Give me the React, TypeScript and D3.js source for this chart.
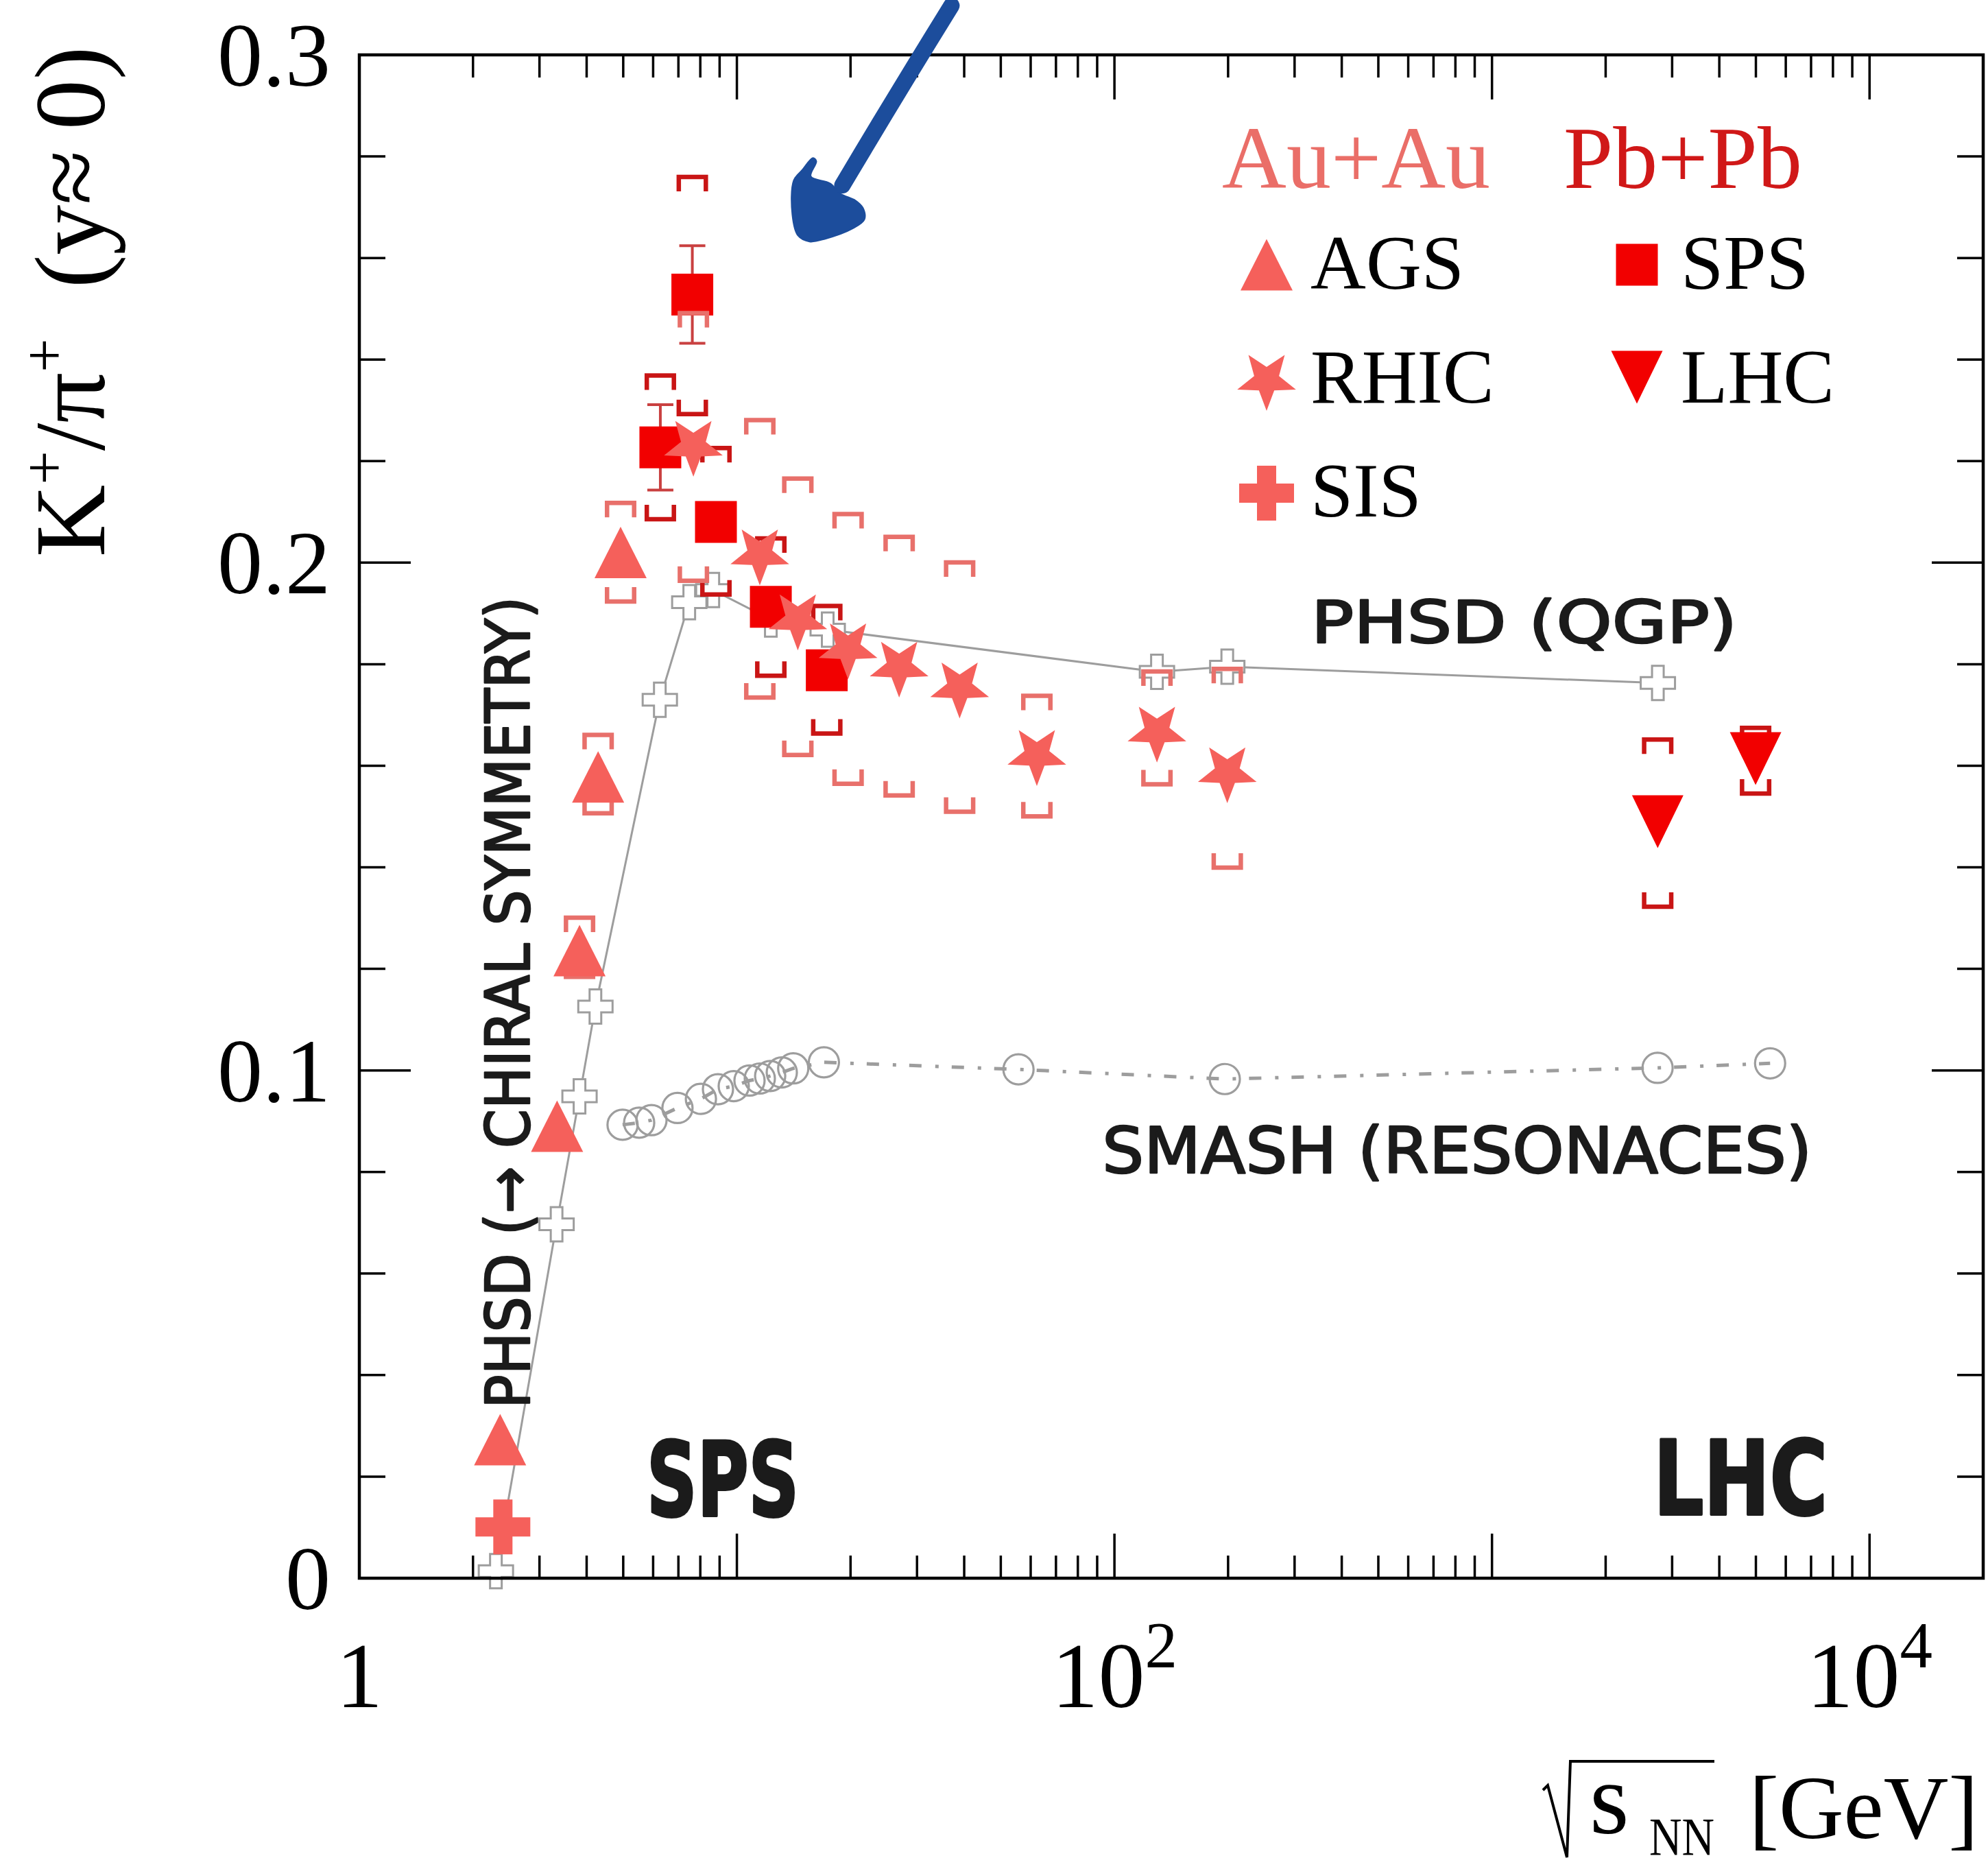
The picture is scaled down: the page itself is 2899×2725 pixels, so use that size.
import React from "react";
import * as d3 from "d3";

const W = 2899;
const H = 2725;

// ---- data (sqrt(sNN) in GeV, K+/pi+ ratio) ----
// Au+Au AGS (up triangles)
const agsE = [2.36, 3.34, 3.83, 4.29, 4.92];
const agsR = [0.0273, 0.089, 0.1236, 0.1578, 0.202];
const agsSysLo = [null, null, 0.118, 0.1502, 0.1919];
const agsSysHi = [null, null, 0.1305, 0.1665, 0.2122];

// Au+Au SIS (filled cross)
const sisE = [2.4];
const sisR = [0.0101];

// Pb+Pb SPS (squares)
const spsE = [6.27, 7.62, 8.8, 12.3, 17.3];
const spsR = [0.2227, 0.2528, 0.208, 0.1913, 0.1788];
const spsStat = [0.0084, 0.0096, 0.003, 0.003, 0.003];
const spsSysLo = [0.2081, 0.2288, 0.1933, 0.1773, 0.1659];
const spsSysHi = [0.2373, 0.2764, 0.223, 0.2052, 0.1919];

// Au+Au RHIC (stars)
const rhicE = [7.67, 11.5, 14.5, 19.7, 26.9, 38.9, 62.3, 129.6, 199];
const rhicR = [0.223, 0.2016, 0.1888, 0.1831, 0.1795, 0.1754, 0.1621, 0.1667, 0.1587];
const rhicSysLo = [0.196, 0.173, 0.1617, 0.156, 0.1537, 0.1505, 0.1496, 0.1559, 0.1395];
const rhicSysHi = [0.2496, 0.2285, 0.217, 0.21, 0.2055, 0.2005, 0.1742, 0.179, 0.1795];

// Pb+Pb LHC (down triangles)
const lhcE = [2747, 4991];
const lhcR = [0.149, 0.1614];
const lhcSysLo = [0.1318, 0.1541];
const lhcSysHi = [0.1656, 0.1679];

// PHSD model (open crosses, solid line)
const phsdE = [2.3, 3.33, 3.83, 4.22, 6.25, 7.48, 8.66, 12.3, 17.4, 129.6, 199, 2750];
const phsdR = [0.0014, 0.0697, 0.0949, 0.1126, 0.173, 0.1922, 0.1946, 0.1888, 0.1868, 0.1785, 0.1795, 0.1763];

// SMASH model (open circles, dash-dot line)
const smashE = [4.98, 5.51, 5.94, 6.96, 8.03, 8.91, 9.81, 10.8, 11.5, 12.25, 13.15, 14.1, 17.0, 55.7, 196, 2745, 5453];
const smashR = [0.0893, 0.0897, 0.0902, 0.0926, 0.0944, 0.0963, 0.0969, 0.098, 0.0984, 0.0989, 0.0996, 0.1004, 0.1016, 0.1002, 0.0983, 0.1005, 0.1014];

const yTickLabels = ["0", "0.1", "0.2", "0.3"];
const xTickLabels = [
  { v: 1, base: "1", exp: "" },
  { v: 100, base: "10", exp: "2" },
  { v: 10000, base: "10", exp: "4" },
];

// colours
const AU = "#f5605b";
const AU_SYS = "#e8706b";
const PB = "#f20000";
const PB_SYS = "#c91515";
const PB_STAT = "#c94040";
const MODEL = "#9d9d9d";
const INK = "#1b1b1b";
const SERIF = "'Liberation Serif', 'Times New Roman', serif";
const HAND = "'DejaVu Sans', sans-serif";

// marker shapes centred on 0,0
const triUp = (w: number, h: number) => `M${-w / 2},${h / 2}L${w / 2},${h / 2}L0,${-h / 2}Z`;
const triDown = (w: number, h: number) => `M${-w / 2},${-h / 2}L${w / 2},${-h / 2}L0,${h / 2}Z`;
const square = (s: number) => `M${-s / 2},${-s / 2}h${s}v${s}h${-s}Z`;
const star = (R: number, r: number) => {
  const pts: string[] = [];
  for (let k = 0; k < 10; k++) {
    const a = Math.PI / 2 + (k * Math.PI) / 5;
    const rad = k % 2 === 0 ? R : r;
    pts.push(`${(rad * Math.cos(a)).toFixed(2)},${(rad * Math.sin(a)).toFixed(2)}`);
  }
  return "M" + pts.join("L") + "Z";
};
const cross = (s: number, a: number) => {
  const h = s / 2, t = a / 2;
  return `M${-t},${-h}H${t}V${-t}H${h}V${t}H${t}V${h}H${-t}V${t}H${-h}V${-t}H${-t}Z`;
};

const SHAPES: Record<string, string> = {
  triUp: triUp(76, 75),
  triDown: triDown(75, 77),
  square: square(61),
  star: star(45, 19),
  cross: cross(80, 28),
};

const legendItems = [
  { label: "AGS", shape: "triUp", color: AU, col: 0, row: 0 },
  { label: "SPS", shape: "square", color: PB, col: 1, row: 0 },
  { label: "RHIC", shape: "star", color: AU, col: 0, row: 1 },
  { label: "LHC", shape: "triDown", color: PB, col: 1, row: 1 },
  { label: "SIS", shape: "cross", color: AU, col: 0, row: 2 },
];

// hand-written notes, anchored in data units
const notes = [
  { text: "PHSD (QGP)", e: 332, r: 0.1842, len: 621, size: 86, bold: false, rot: 0 },
  { text: "SMASH (RESONACES)", e: 92.8, r: 0.0798, len: 1035, size: 92, bold: false, rot: 0 },
  { text: "PHSD (→ CHIRAL SYMMETRY)", e: 2.82, r: 0.0334, len: 1184, size: 89, bold: false, rot: -90 },
  { text: "SPS", e: 5.77, r: 0.0123, len: 222, size: 150, bold: true, rot: 0 },
  { text: "LHC", e: 2678, r: 0.0126, len: 254, size: 150, bold: true, rot: 0 },
];

const arrowHead: [number, number][] = [
  [-3, -120], [-18, -103], [-31, -87], [-33, -37], [-25, -7], [-8, 2], [15, -2],
  [55, -17], [72, -30], [70, -47], [59, -58], [37, -68], [22, -83], [-6, -93], [2, -115],
];

export default function App() {
  const x = d3.scaleLog().domain([1, 2e4]).range([524, 2892]);
  const y = d3.scaleLinear().domain([0, 0.3]).range([2301, 80]);
  const [x0, x1] = x.range();
  const [y0, y1] = y.range();

  const xTicks: { v: number; major: boolean }[] = [];
  for (let k = 0; k <= 4; k++) {
    for (let m = 1; m <= 9; m++) {
      const v = m * Math.pow(10, k);
      if (v > 1 && v < 2e4) xTicks.push({ v, major: m === 1 });
    }
  }
  const yTicks = d3.range(1, 15).map((i) => ({ v: i * 0.02, major: i % 5 === 0 }));

  const BW = 46, LEG = 21, BSW = 6.5;
  const brackets = (E: number[], lo: (number | null)[], hi: (number | null)[], color: string, key: string) =>
    E.map((e, i) => {
      const cx = x(e);
      const l = cx - BW / 2 + BSW / 2;
      const r = cx + BW / 2 - BSW / 2;
      const out: JSX.Element[] = [];
      if (hi[i] != null) {
        const yy = y(hi[i] as number) + BSW / 2;
        out.push(<path key={`${key}h${i}`} d={`M${l},${yy + LEG}V${yy}H${r}V${yy + LEG}`} fill="none" stroke={color} strokeWidth={BSW} />);
      }
      if (lo[i] != null) {
        const yy = y(lo[i] as number) - BSW / 2;
        out.push(<path key={`${key}l${i}`} d={`M${l},${yy - LEG}V${yy}H${r}V${yy - LEG}`} fill="none" stroke={color} strokeWidth={BSW} />);
      }
      return out;
    });

  const markers = (E: number[], R: number[], shape: string, color: string, key: string) =>
    E.map((e, i) => (
      <path key={`${key}${i}`} d={SHAPES[shape]} transform={`translate(${x(e)},${y(R[i])})`} fill={color} />
    ));

  const line = d3.line<[number, number]>().x((d) => x(d[0])).y((d) => y(d[1]));
  const phsdPts = phsdE.map((e, i) => [e, phsdR[i]] as [number, number]);
  const smashPts = smashE.map((e, i) => [e, smashR[i]] as [number, number]);

  const headPath = d3.line().curve(d3.curveCatmullRomClosed)(arrowHead) as string;
  const tipX = x(16.1), tipY = y(0.2635);

  // legend layout
  const lgX = [1847, 2387];
  const lgTextX = [1911, 2451];
  const lgBase = [421, 587, 753];
  const lgDy: Record<string, number> = { triUp: -35, square: -35, star: -33, triDown: -37, cross: -34 };

  // x axis label position
  const axY = 2680;

  return (
    <svg width={W} height={H} style={{ position: "absolute", left: 0, top: 0, background: "#fff" }}>
      <rect width={W} height={H} fill="#fff" />

      {/* PHSD */}
      <path d={line(phsdPts) as string} fill="none" stroke={MODEL} strokeWidth={3} />
      {phsdPts.map((p, i) => (
        <path key={`ph${i}`} d={cross(50, 17)} transform={`translate(${x(p[0])},${y(p[1])})`} fill="#fff" stroke={MODEL} strokeWidth={3} />
      ))}

      {/* SMASH */}
      <path d={line(smashPts) as string} fill="none" stroke={MODEL} strokeWidth={5} strokeDasharray="18,20,5,19" />
      {smashPts.map((p, i) => (
        <circle key={`sm${i}`} cx={x(p[0])} cy={y(p[1])} r={22} fill="none" stroke={MODEL} strokeWidth={3.2} />
      ))}

      {/* data */}
      {brackets(agsE, agsSysLo, agsSysHi, AU_SYS, "ab")}
      {markers(agsE, agsR, "triUp", AU, "ag")}
      {markers(sisE, sisR, "cross", AU, "si")}

      {brackets(spsE, spsSysLo, spsSysHi, PB_SYS, "sb")}
      {spsE.map((e, i) => {
        const cx = x(e);
        const t = y(spsR[i] + spsStat[i]);
        const b = y(spsR[i] - spsStat[i]);
        return (
          <path key={`st${i}`} d={`M${cx},${t}V${b}M${cx - 19},${t}H${cx + 19}M${cx - 19},${b}H${cx + 19}`} stroke={PB_STAT} strokeWidth={4} fill="none" />
        );
      })}
      {markers(spsE, spsR, "square", PB, "sp")}

      {brackets(rhicE, rhicSysLo, rhicSysHi, AU_SYS, "rb")}
      {markers(rhicE, rhicR, "star", AU, "rh")}

      {brackets(lhcE, lhcSysLo, lhcSysHi, PB_SYS, "lb")}
      {markers(lhcE, lhcR, "triDown", PB, "lh")}

      {/* frame and ticks */}
      <rect x={x0} y={y1} width={x1 - x0} height={y0 - y1} fill="none" stroke="#000" strokeWidth={4.5} />
      {xTicks.map((t, i) => {
        const len = t.major ? 65 : 33;
        const xx = x(t.v);
        return (
          <g key={`xt${i}`} stroke="#000" strokeWidth={3.5}>
            <line x1={xx} x2={xx} y1={y0} y2={y0 - len} />
            <line x1={xx} x2={xx} y1={y1} y2={y1 + len} />
          </g>
        );
      })}
      {yTicks.map((t, i) => {
        const len = t.major ? 75 : 38;
        const yy = y(t.v);
        return (
          <g key={`yt${i}`} stroke="#000" strokeWidth={3.5}>
            <line x1={x0} x2={x0 + len} y1={yy} y2={yy} />
            <line x1={x1} x2={x1 - len} y1={yy} y2={yy} />
          </g>
        );
      })}

      {/* tick labels */}
      {yTickLabels.map((s, i) => (
        <text key={`yl${i}`} x={482} y={y(i * 0.1) + 45} textAnchor="end" fontFamily={SERIF} fontSize={132} fill="#000">
          {s}
        </text>
      ))}
      {xTickLabels.map((t, i) => (
        <text key={`xl${i}`} x={x(t.v)} y={2489} textAnchor="middle" fontFamily={SERIF} fontSize={136} fill="#000">
          {t.base}
          {t.exp && (
            <tspan fontSize={95} dy={-58}>
              {t.exp}
            </tspan>
          )}
        </text>
      ))}

      {/* axis titles */}
      <text transform="translate(152,440) rotate(-90)" textAnchor="middle" fontFamily={SERIF} fontSize={146} fill="#000">
        K
        <tspan fontSize={88} dy={-58}>+</tspan>
        <tspan fontSize={146} dy={58}>/π</tspan>
        <tspan fontSize={88} dy={-58}>+</tspan>
        <tspan fontSize={146} dy={58}>{"\u2002(y\u2248\u20090)"}</tspan>
      </text>

      <path d={`M2250,${axY - 70}L2257,${axY - 77}L2285,${axY + 28}L2290,${axY - 112}H2500`} fill="none" stroke="#000" strokeWidth={4} />
      <text x={2318} y={axY - 7} fontFamily={SERIF} fontSize={148} fill="#000">s</text>
      <text x={2405} y={axY + 24} fontFamily={SERIF} fontSize={78} textLength={95} lengthAdjust="spacingAndGlyphs" fill="#000">NN</text>
      <text x={2885} y={axY} textAnchor="end" fontFamily={SERIF} fontSize={131} fill="#000">[GeV]</text>

      {/* legend */}
      <text x={1782} y={274} fontFamily={SERIF} fontSize={130} fill="#ea6e68">Au+Au</text>
      <text x={2280} y={274} fontFamily={SERIF} fontSize={130} fill="#d01818">Pb+Pb</text>
      {legendItems.map((it, i) => (
        <g key={`lg${i}`}>
          <path d={SHAPES[it.shape]} transform={`translate(${lgX[it.col]},${lgBase[it.row] + lgDy[it.shape]})`} fill={it.color} />
          <text x={lgTextX[it.col]} y={lgBase[it.row]} fontFamily={SERIF} fontSize={112} fill="#000">
            {it.label}
          </text>
        </g>
      ))}

      {/* hand-written notes */}
      {notes.map((n, i) => (
        <text
          key={`n${i}`}
          transform={`translate(${x(n.e)},${y(n.r)}) rotate(${n.rot})`}
          fontFamily={HAND}
          fontWeight={n.bold ? 700 : 400}
          fontSize={n.size}
          textLength={n.len}
          lengthAdjust="spacingAndGlyphs"
          fill={INK}
          stroke={INK}
          strokeWidth={n.bold ? 4 : 2.5}
          strokeLinejoin="round"
        >
          {n.text}
        </text>
      ))}

      {/* blue arrow */}
      <g transform={`translate(${tipX},${tipY})`} fill="#1c4d9c" stroke="#1c4d9c">
        <path d="M199,-342 Q116,-208 40,-80" fill="none" strokeWidth={24} strokeLinecap="round" />
        <path d={headPath} strokeWidth={2} />
      </g>
    </svg>
  );
}
